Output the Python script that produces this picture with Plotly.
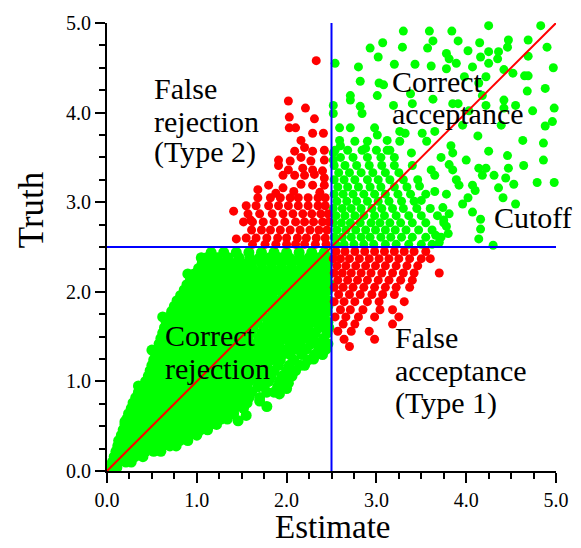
import plotly.graph_objects as go

FONT = "Liberation Serif"

# ---------------- data ----------------
cutoff = 2.5
axis_range = [0.0, 5.0]
tick_vals = [0.0, 1.0, 2.0, 3.0, 4.0, 5.0]
tick_text = ["0.0", "1.0", "2.0", "3.0", "4.0", "5.0"]

# Correct rejection (green, both below cutoff) - dense wedge, rows of (truth, [estimates])
green_low_rows = [
    (0.04, [0.04, 0.11]),
    (0.10, [0.06, 0.13, 0.21, 0.27]),
    (0.16, [0.08, 0.16, 0.23, 0.31, 0.40]),
    (0.22, [0.10, 0.18, 0.26, 0.35, 0.43, 0.52, 0.60]),
    (0.28, [0.12, 0.20, 0.28, 0.37, 0.45, 0.53, 0.62, 0.70, 0.77]),
    (0.34, [0.13, 0.22, 0.30, 0.39, 0.47, 0.56, 0.64, 0.73, 0.81, 0.90]),
    (0.40, [0.16, 0.24, 0.33, 0.41, 0.50, 0.58, 0.67, 0.75, 0.84, 0.92, 1.00]),
    (0.46, [0.18, 0.27, 0.35, 0.44, 0.52, 0.61, 0.69, 0.78, 0.86, 0.95, 1.04, 1.12]),
    (0.52, [0.20, 0.29, 0.37, 0.46, 0.55, 0.63, 0.72, 0.80, 0.89, 0.98, 1.06, 1.15, 1.22]),
    (0.58, [0.22, 0.31, 0.40, 0.48, 0.57, 0.66, 0.74, 0.83, 0.92, 1.00, 1.09, 1.18, 1.27, 1.34]),
    (0.64, [0.24, 0.33, 0.42, 0.51, 0.59, 0.68, 0.77, 0.86, 0.94, 1.03, 1.12, 1.21, 1.30, 1.41]),
    (0.70, [0.27, 0.36, 0.44, 0.53, 0.62, 0.71, 0.80, 0.88, 0.97, 1.06, 1.15, 1.24, 1.33, 1.42, 1.52]),
    (0.76, [0.29, 0.38, 0.47, 0.56, 0.65, 0.73, 0.82, 0.91, 1.00, 1.09, 1.18, 1.27, 1.36, 1.46, 1.56]),
    (0.82, [0.32, 0.41, 0.50, 0.59, 0.68, 0.77, 0.86, 0.95, 1.04, 1.13, 1.22, 1.31, 1.40, 1.50, 1.58, 1.70]),
    (0.88, [0.35, 0.44, 0.53, 0.62, 0.71, 0.80, 0.89, 0.98, 1.07, 1.16, 1.25, 1.35, 1.43, 1.55, 1.61, 1.78, 1.86]),
    (0.94, [0.39, 0.48, 0.57, 0.66, 0.75, 0.84, 0.93, 1.02, 1.11, 1.20, 1.29, 1.39, 1.47, 1.56, 1.68, 1.75, 1.90]),
    (1.00, [0.43, 0.51, 0.60, 0.69, 0.78, 0.87, 0.96, 1.05, 1.14, 1.23, 1.32, 1.42, 1.51, 1.58, 1.69, 1.80, 1.92, 2.00]),
    (1.06, [0.46, 0.54, 0.63, 0.72, 0.81, 0.90, 0.99, 1.08, 1.17, 1.26, 1.35, 1.45, 1.53, 1.63, 1.71, 1.83, 1.95, 2.06]),
    (1.12, [0.48, 0.57, 0.66, 0.75, 0.84, 0.93, 1.02, 1.11, 1.20, 1.29, 1.38, 1.48, 1.57, 1.65, 1.77, 1.86, 2.00, 2.10]),
    (1.18, [0.50, 0.59, 0.68, 0.77, 0.86, 0.95, 1.04, 1.13, 1.22, 1.31, 1.41, 1.52, 1.60, 1.69, 1.78, 1.91, 2.03, 2.15]),
    (1.24, [0.52, 0.61, 0.70, 0.79, 0.88, 0.97, 1.06, 1.15, 1.24, 1.34, 1.44, 1.55, 1.64, 1.72, 1.83, 1.93, 2.08, 2.24]),
    (1.30, [0.54, 0.63, 0.72, 0.81, 0.90, 0.99, 1.08, 1.17, 1.27, 1.37, 1.47, 1.58, 1.66, 1.75, 1.86, 1.95, 2.04, 2.17, 2.31, 2.40]),
    (1.36, [0.56, 0.65, 0.74, 0.83, 0.92, 1.01, 1.10, 1.20, 1.30, 1.40, 1.50, 1.62, 1.70, 1.79, 1.90, 2.01, 2.12, 2.22, 2.36, 2.44]),
    (1.42, [0.58, 0.67, 0.76, 0.85, 0.94, 1.03, 1.13, 1.23, 1.33, 1.43, 1.54, 1.66, 1.74, 1.83, 1.92, 2.04, 2.15, 2.27, 2.35, 2.46]),
    (1.48, [0.60, 0.69, 0.78, 0.87, 0.96, 1.06, 1.16, 1.26, 1.36, 1.46, 1.57, 1.69, 1.78, 1.87, 1.98, 2.08, 2.19, 2.29, 2.41]),
    (1.54, [0.62, 0.71, 0.80, 0.89, 0.99, 1.09, 1.19, 1.29, 1.39, 1.49, 1.60, 1.72, 1.80, 1.91, 2.01, 2.11, 2.22, 2.32, 2.45]),
    (1.60, [0.64, 0.73, 0.82, 0.92, 1.02, 1.12, 1.22, 1.32, 1.42, 1.52, 1.63, 1.75, 1.84, 1.93, 2.03, 2.14, 2.24, 2.36, 2.47]),
    (1.66, [0.66, 0.75, 0.85, 0.95, 1.05, 1.15, 1.25, 1.35, 1.45, 1.56, 1.67, 1.79, 1.87, 1.97, 2.07, 2.18, 2.28, 2.38, 2.46]),
    (1.72, [0.69, 0.78, 0.88, 0.98, 1.08, 1.18, 1.28, 1.38, 1.48, 1.59, 1.70, 1.82, 1.91, 2.01, 2.10, 2.21, 2.31, 2.42]),
    (1.78, [0.72, 0.81, 0.91, 1.01, 1.11, 1.21, 1.31, 1.41, 1.51, 1.62, 1.73, 1.85, 1.94, 2.03, 2.13, 2.24, 2.34, 2.45]),
    (1.84, [0.75, 0.84, 0.94, 1.04, 1.14, 1.24, 1.34, 1.44, 1.54, 1.65, 1.76, 1.88, 1.97, 2.07, 2.17, 2.26, 2.36, 2.46]),
    (1.90, [0.78, 0.88, 0.98, 1.08, 1.18, 1.28, 1.38, 1.48, 1.58, 1.69, 1.80, 1.92, 2.01, 2.10, 2.20, 2.29, 2.39, 2.47]),
    (1.96, [0.82, 0.92, 1.02, 1.12, 1.22, 1.32, 1.42, 1.52, 1.62, 1.73, 1.84, 1.96, 2.05, 2.14, 2.23, 2.33, 2.42]),
    (2.02, [0.86, 0.96, 1.06, 1.16, 1.26, 1.36, 1.46, 1.56, 1.66, 1.77, 1.88, 2.00, 2.09, 2.18, 2.27, 2.36, 2.46]),
    (2.08, [0.89, 0.99, 1.09, 1.19, 1.29, 1.39, 1.49, 1.59, 1.70, 1.81, 1.92, 2.03, 2.12, 2.22, 2.31, 2.41, 2.48]),
    (2.14, [0.93, 1.03, 1.13, 1.23, 1.33, 1.43, 1.53, 1.63, 1.74, 1.85, 1.96, 2.07, 2.16, 2.25, 2.34, 2.44]),
    (2.20, [0.97, 1.07, 1.17, 1.27, 1.37, 1.47, 1.57, 1.68, 1.79, 1.90, 2.01, 2.12, 2.21, 2.30, 2.39, 2.47]),
    (2.26, [1.02, 1.12, 1.22, 1.32, 1.42, 1.52, 1.62, 1.73, 1.84, 1.95, 2.06, 2.17, 2.26, 2.35, 2.44]),
    (2.32, [1.06, 1.17, 1.28, 1.39, 1.50, 1.61, 1.72, 1.83, 1.94, 2.05, 2.16, 2.27, 2.36, 2.46]),
    (2.38, [1.11, 1.23, 1.35, 1.47, 1.59, 1.70, 1.81, 1.92, 2.03, 2.14, 2.25, 2.36, 2.46]),
    (2.44, [1.16, 1.30, 1.44, 1.58, 1.72, 1.86, 2.00, 2.14, 2.28, 2.42]),
]
green_low_extra = [
    (1.55, 0.62), (1.70, 0.78), (1.92, 0.86), (2.02, 0.98), (1.78, 0.72), (2.20, 1.18),
    (2.30, 1.25), (1.46, 0.56), (2.00, 0.92), (0.20, 0.55), (0.35, 0.95), (0.50, 1.35),
    (0.62, 1.72), (0.90, 2.20), (1.05, 2.38),
]

# Correct acceptance (green, both above cutoff) - dense part near the cutoff corner
green_high_rows = [
    (2.53, [2.55, 2.64, 2.75, 2.86, 2.97, 3.10, 3.22, 3.36, 3.50, 3.62]),
    (2.61, [2.53, 2.62, 2.72, 2.83, 2.93, 3.05, 3.16, 3.28, 3.40, 3.55, 3.72]),
    (2.69, [2.56, 2.66, 2.77, 2.88, 2.99, 3.10, 3.21, 3.33, 3.47, 3.62]),
    (2.77, [2.52, 2.61, 2.71, 2.82, 2.94, 3.04, 3.15, 3.27, 3.40, 3.55, 3.75]),
    (2.85, [2.55, 2.65, 2.76, 2.86, 2.98, 3.09, 3.22, 3.36, 3.50, 3.68]),
    (2.93, [2.52, 2.62, 2.72, 2.83, 2.95, 3.06, 3.18, 3.30, 3.45, 3.60]),
    (3.01, [2.56, 2.67, 2.78, 2.90, 3.02, 3.14, 3.28, 3.42]),
    (3.09, [2.53, 2.63, 2.74, 2.86, 2.98, 3.10, 3.24, 3.38, 3.55]),
    (3.17, [2.57, 2.68, 2.80, 2.93, 3.05, 3.20, 3.34]),
    (3.25, [2.53, 2.64, 2.76, 2.90, 3.02, 3.15, 3.30, 3.46]),
    (3.33, [2.58, 2.70, 2.83, 2.96, 3.10, 3.25]),
    (3.41, [2.53, 2.65, 2.78, 2.92, 3.06, 3.20, 3.40]),
    (3.50, [2.60, 2.74, 2.90, 3.05, 3.20]),
    (3.58, [2.54, 2.68, 2.84, 3.00, 3.15]),
]
# Correct acceptance - scattered points
green_high_pts = [
    (3.30, 4.91), (3.59, 4.91), (3.84, 4.91), (4.25, 4.97), (4.83, 4.97), (3.07, 4.78),
    (2.93, 4.72), (3.29, 4.73), (3.63, 4.80), (3.57, 4.72), (3.91, 4.80), (4.15, 4.78),
    (4.47, 4.81), (4.69, 4.81), (4.90, 4.73), (4.02, 4.69), (4.25, 4.68), (4.36, 4.68),
    (4.46, 4.73), (3.02, 4.62), (3.78, 4.66), (3.81, 4.60), (4.16, 4.62), (2.54, 4.55),
    (2.80, 4.51), (3.20, 4.54), (3.43, 4.54), (3.61, 4.52), (3.78, 4.49), (3.89, 4.55),
    (4.07, 4.51), (4.25, 4.55), (4.35, 4.60), (4.69, 4.63), (4.97, 4.50), (2.82, 4.35),
    (3.03, 4.33), (3.08, 4.31), (3.98, 4.40), (4.14, 4.33), (4.22, 4.40), (4.42, 4.48),
    (4.52, 4.44), (4.65, 4.41), (4.69, 4.41), (2.71, 4.19), (2.71, 4.14), (3.01, 4.19),
    (3.38, 4.21), (3.63, 4.15), (4.18, 4.19), (4.42, 4.14), (4.68, 4.24), (4.88, 4.27),
    (2.52, 4.08), (2.52, 3.99), (2.82, 4.07), (2.84, 3.99), (3.19, 4.08), (3.40, 4.10),
    (3.85, 4.10), (3.91, 4.10), (4.03, 4.02), (4.22, 4.08), (4.42, 4.05), (4.55, 4.08),
    (4.74, 4.02), (4.98, 4.05), (2.59, 3.83), (2.71, 3.83), (2.98, 3.83), (3.01, 3.75),
    (3.26, 3.79), (3.51, 3.77), (3.65, 3.79), (3.96, 3.86), (4.13, 3.74), (4.39, 3.86),
    (4.63, 3.69), (4.88, 3.85), (4.96, 3.90), (4.86, 3.66), (2.59, 3.69), (2.60, 3.63),
    (2.76, 3.68), (2.90, 3.68), (2.88, 3.60), (3.12, 3.69), (3.12, 3.58), (3.26, 3.68),
    (3.32, 3.77), (3.39, 3.55), (3.56, 3.68), (3.83, 3.63), (3.85, 3.55), (4.00, 3.47),
    (4.25, 3.57), (4.46, 3.52), (4.86, 3.47), (2.52, 3.55), (2.52, 3.47), (3.72, 3.50),
    (3.61, 3.36), (3.65, 3.30), (3.81, 3.42), (3.85, 3.36), (4.14, 3.38), (4.22, 3.38),
    (4.47, 3.38), (4.64, 3.41), (4.18, 3.30), (4.31, 3.30), (4.44, 3.27), (4.53, 3.20),
    (4.79, 3.22), (4.98, 3.22), (3.89, 3.25), (3.92, 3.19), (4.07, 3.19), (4.10, 3.13),
    (4.36, 3.16), (3.78, 3.09), (4.02, 3.05), (3.96, 2.98), (4.41, 3.05), (4.55, 2.98),
    (4.07, 2.89), (3.74, 2.94), (3.81, 2.87), (3.75, 2.80), (3.78, 2.73), (3.80, 2.65),
    (4.16, 2.81), (4.16, 2.70), (4.14, 2.59), (3.66, 2.63), (3.70, 2.55), (4.30, 2.52),
    (3.48, 3.18), (3.50, 3.02), (3.65, 3.12),
]

# False rejection (red, estimate below / truth above cutoff)
red_ul_rows = [
    (3.05, [1.68, 1.82, 1.93, 2.04, 2.13, 2.24, 2.35, 2.43]),
    (2.96, [1.55, 1.66, 1.80, 1.91, 2.02, 2.13, 2.24, 2.35, 2.43]),
    (2.87, [1.57, 1.70, 1.84, 1.96, 2.07, 2.18, 2.28, 2.38, 2.46]),
    (2.78, [1.52, 1.62, 1.74, 1.86, 1.98, 2.10, 2.20, 2.30, 2.40, 2.47]),
    (2.69, [1.61, 1.72, 1.82, 1.93, 2.04, 2.15, 2.26, 2.36, 2.45]),
    (2.60, [1.55, 1.66, 1.78, 1.90, 2.00, 2.12, 2.22, 2.33, 2.43]),
    (2.53, [1.62, 1.76, 1.88, 2.00, 2.10, 2.20, 2.32, 2.44]),
]
red_ul_pts = [
    (2.33, 4.58), (2.02, 4.13), (2.21, 4.05), (2.03, 3.95), (2.03, 3.83), (2.10, 3.83),
    (2.31, 3.93), (2.29, 3.77), (2.41, 3.77), (2.16, 3.69), (2.20, 3.61), (2.09, 3.57),
    (2.29, 3.57), (2.42, 3.58), (1.91, 3.47), (2.04, 3.46), (2.16, 3.50), (2.27, 3.46),
    (2.42, 3.47), (1.91, 3.41), (2.02, 3.36), (2.18, 3.38), (2.29, 3.36), (2.40, 3.35),
    (1.96, 3.30), (2.09, 3.30), (2.20, 3.30), (2.31, 3.31), (2.42, 3.27), (1.68, 3.14),
    (1.80, 3.19), (1.96, 3.16), (2.16, 3.20), (2.29, 3.19), (2.42, 3.19), (1.41, 2.90),
    (1.44, 2.59), (1.60, 2.80), (2.08, 3.12), (2.37, 3.11), (1.88, 3.10),
]

# False acceptance (red, estimate above / truth below cutoff)
red_lr_rows = [
    (2.45, [2.55, 2.65, 2.76, 2.87, 2.98, 3.09, 3.20, 3.31, 3.42, 3.55]),
    (2.37, [2.52, 2.60, 2.70, 2.81, 2.92, 3.03, 3.14, 3.25, 3.37, 3.50, 3.60]),
    (2.29, [2.56, 2.66, 2.77, 2.88, 2.99, 3.10, 3.22, 3.34, 3.46]),
    (2.21, [2.53, 2.62, 2.72, 2.83, 2.94, 3.06, 3.18, 3.30, 3.42, 3.70]),
    (2.13, [2.57, 2.68, 2.79, 2.90, 3.02, 3.14, 3.27, 3.40]),
    (2.05, [2.53, 2.63, 2.74, 2.86, 2.98, 3.10, 3.22, 3.37]),
    (1.97, [2.58, 2.70, 2.82, 2.95, 3.07, 3.20]),
    (1.89, [2.53, 2.64, 2.76, 2.90, 3.03, 3.31]),
    (1.80, [2.60, 2.71, 2.85, 3.04, 3.18]),
    (1.72, [2.54, 2.66, 2.80, 2.98, 3.25]),
    (1.64, [2.63, 2.76, 3.18]),
    (1.56, [2.57, 2.72, 2.92]),
    (1.47, [2.64, 2.98]),
    (1.39, [2.70]),
]

diag_line = [0.0, 5.0]

# region labels: (estimate of left edge, truth of line centre, text)
label_lines = [
    (0.50, 4.265, "False"), (0.50, 3.905, "rejection"), (0.50, 3.555, "(Type 2)"),
    (3.15, 4.345, "Correct"), (3.15, 3.995, "acceptance"),
    (4.29, 2.825, "Cutoff"),
    (0.62, 1.515, "Correct"), (0.62, 1.145, "rejection"),
    (3.19, 1.495, "False"), (3.19, 1.125, "acceptance"), (3.19, 0.755, "(Type 1)"),
]


def expand(rows):
    xs, ys = [], []
    for y, row in rows:
        for x in row:
            xs.append(x)
            ys.append(y)
    return xs, ys


gx1, gy1 = expand(green_low_rows)
gx1 += [p[0] for p in green_low_extra]
gy1 += [p[1] for p in green_low_extra]
gx2, gy2 = expand(green_high_rows)
gx2 += [p[0] for p in green_high_pts]
gy2 += [p[1] for p in green_high_pts]

rx1, ry1 = expand(red_ul_rows)
rx2, ry2 = expand(red_lr_rows)
red_x = rx1 + [p[0] for p in red_ul_pts] + rx2
red_y = ry1 + [p[1] for p in red_ul_pts] + ry2

fig = go.Figure()
fig.add_trace(go.Scatter(x=gx1, y=gy1, mode="markers",
                         marker=dict(color="#00FF00", size=11, line=dict(width=0)),
                         cliponaxis=False, hoverinfo="skip"))
fig.add_trace(go.Scatter(x=gx2, y=gy2, mode="markers",
                         marker=dict(color="#00FF00", size=9, line=dict(width=0)),
                         cliponaxis=False, hoverinfo="skip"))
fig.add_trace(go.Scatter(x=red_x, y=red_y, mode="markers",
                         marker=dict(color="#FF0000", size=9, line=dict(width=0)),
                         cliponaxis=False, hoverinfo="skip"))
fig.add_trace(go.Scatter(x=diag_line, y=diag_line, mode="lines",
                         line=dict(color="#FF0000", width=2), hoverinfo="skip"))
fig.add_trace(go.Scatter(x=[cutoff, cutoff], y=axis_range, mode="lines",
                         line=dict(color="#0000FF", width=2), hoverinfo="skip"))
fig.add_trace(go.Scatter(x=axis_range, y=[cutoff, cutoff], mode="lines",
                         line=dict(color="#0000FF", width=2), hoverinfo="skip"))

axis_common = dict(
    range=axis_range, showgrid=False, zeroline=False, showline=True,
    linecolor="black", linewidth=2, ticks="outside", ticklen=10, tickwidth=2,
    tickcolor="black", tickvals=tick_vals, ticktext=tick_text,
    tickfont=dict(family=FONT, size=20, color="black"),
    minor=dict(ticks="outside", ticklen=6, tickwidth=2, tickcolor="black", dtick=0.25),
)
fig.update_xaxes(**axis_common)
fig.update_yaxes(**axis_common)

ann_font = dict(family=FONT, size=30, color="black")
for lx, ly, txt in label_lines:
    fig.add_annotation(x=lx, y=ly, text=txt, xref="x", yref="y",
                       xanchor="left", yanchor="middle", align="left",
                       showarrow=False, font=ann_font)

fig.add_annotation(x=(335 - 107) / 454, y=(471 - 547) / 452, xref="paper", yref="paper",
                   text="Estimate", showarrow=False, xanchor="center", yanchor="bottom",
                   borderpad=0, font=dict(family=FONT, size=33, color="black"))
fig.add_annotation(x=(30 - 107) / 454, y=(471 - 207) / 452, xref="paper", yref="paper",
                   text="Truth", textangle=-90, showarrow=False, xanchor="center",
                   yanchor="middle", font=dict(family=FONT, size=35, color="black"))

fig.update_layout(
    width=581, height=548,
    margin=dict(l=107, r=20, t=19, b=77),
    paper_bgcolor="white", plot_bgcolor="white",
    showlegend=False,
)

fig.write_html("out.html")
